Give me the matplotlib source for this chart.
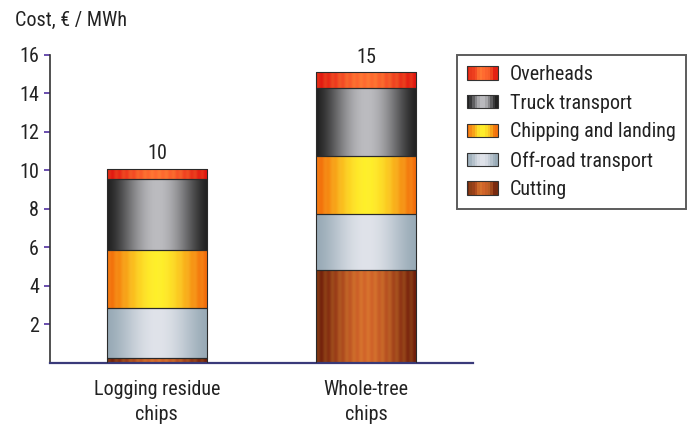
import numpy as np
import matplotlib.pyplot as plt
from matplotlib.patches import Rectangle
from matplotlib.legend_handler import HandlerBase
from matplotlib.colors import to_rgb

plt.rcParams['font.family'] = ['Roboto Condensed', 'Liberation Sans Narrow', 'Roboto', 'DejaVu Sans']

categories = ['Logging residue\nchips', 'Whole-tree\nchips']
components = ['Cutting', 'Off-road transport', 'Chipping and landing',
              'Truck transport', 'Overheads']
cutting = [0.26, 4.83]
off_road = [2.60, 2.91]
chipping = [3.01, 3.01]
truck = [3.69, 3.55]
overheads = [0.54, 0.80]
totals = [10, 15]
yticks = [2, 4, 6, 8, 10, 12, 14, 16]

# edge colour, centre colour, stripes
shades = {
    'Cutting': ('#6e1e0a', '#d2642a', True),
    'Off-road transport': ('#98aab6', '#e0e3ea', False),
    'Chipping and landing': ('#f26a0a', '#fff02a', True),
    'Truck transport': ('#222222', '#bcbcc0', False),
    'Overheads': ('#e0140f', '#ff6a30', True),
}


def gradient(name, n=200):
    edge, centre, stripes = shades[name]
    e = np.array(to_rgb(edge))
    c = np.array(to_rgb(centre))
    t = np.linspace(0, 1, n)
    w = np.sin(np.pi * t) ** 1.5
    img = e[None, :] * (1 - w[:, None]) + c[None, :] * w[:, None]
    if stripes:
        s = 0.5 + 0.5 * np.sin(t * 2 * np.pi * 14)
        img = img * (1 - 0.12 * s[:, None]) + 0.12 * s[:, None] * np.array([1, 0.9, 0.3])
    return np.clip(img[None, :, :], 0, 1)


class GradHandler(HandlerBase):
    def create_artists(self, legend, orig_handle, xdescent, ydescent,
                       width, height, fontsize, trans):
        img = gradient(orig_handle.get_label(), n=12)[0]
        arts = []
        k = len(img)
        for i in range(k):
            r = Rectangle((-xdescent + width * i / k, -ydescent), width / k, height,
                          facecolor=img[i], edgecolor='none', transform=trans)
            arts.append(r)
        arts.append(Rectangle((-xdescent, -ydescent), width, height, facecolor='none',
                              edgecolor='#333333', lw=0.8, transform=trans))
        return arts


fig = plt.figure(figsize=(6.91, 4.28), dpi=100)
ax = fig.add_axes([0.0724, 0.152, 0.6121, 0.7195])

x = np.arange(len(categories))
series = [cutting, off_road, chipping, truck, overheads]
bottom = np.zeros(len(categories))
handles = []
for name, vals in zip(components, series):
    bars = ax.bar(x, vals, 0.48, bottom=bottom, facecolor='none',
                  edgecolor='#2a2a2a', linewidth=0.8, label=name, zorder=3)
    for rect in bars:
        x0, y0 = rect.get_x(), rect.get_y()
        im = ax.imshow(gradient(name), extent=[x0, x0 + rect.get_width(), y0, y0 + rect.get_height()],
                       aspect='auto', zorder=2, interpolation='bilinear')
        im.set_clip_path(rect)
    handles.append(Rectangle((0, 0), 1, 1, label=name))
    bottom = bottom + np.array(vals)

for xi, top, tot in zip(x, bottom, totals):
    ax.annotate(str(tot), (xi, top), xytext=(0, 4), textcoords='offset points',
                ha='center', va='bottom', fontsize=14.5, color='#222222')

ax.set_xlim(-0.51, 1.51)
ax.set_ylim(0, 16)
ax.set_yticks(yticks)
ax.set_xticks(x)
ax.set_xticklabels(categories, fontsize=14.5, color='#222222', linespacing=1.45)
ax.tick_params(axis='x', length=0, pad=12)
ax.tick_params(axis='y', length=4, width=1.2, color='#5030a0', labelsize=14.5,
               labelcolor='#222222', pad=4)
for s in ['top', 'right']:
    ax.spines[s].set_visible(False)
ax.spines['left'].set_color('#333333')
ax.spines['left'].set_linewidth(1.2)
ax.spines['bottom'].set_color('#3a3a7a')
ax.spines['bottom'].set_linewidth(1.6)

fig.text(0.022, 0.953, 'Cost, \u20ac / MWh', fontsize=14.5, color='#222222', va='center')

leg = fig.legend(handles[::-1], components[::-1], loc='upper left',
                 bbox_to_anchor=(0.661, 0.8715), fontsize=14.5, frameon=True,
                 fancybox=False, handler_map={Rectangle: GradHandler()},
                 handlelength=1.55, handleheight=0.65, labelspacing=0.48,
                 borderpad=0.5, handletextpad=0.6, borderaxespad=0)
leg.get_frame().set_edgecolor('#333333')
leg.get_frame().set_linewidth(1.4)
for t in leg.get_texts():
    t.set_color('#222222')

fig.savefig('out.png', dpi=100)
